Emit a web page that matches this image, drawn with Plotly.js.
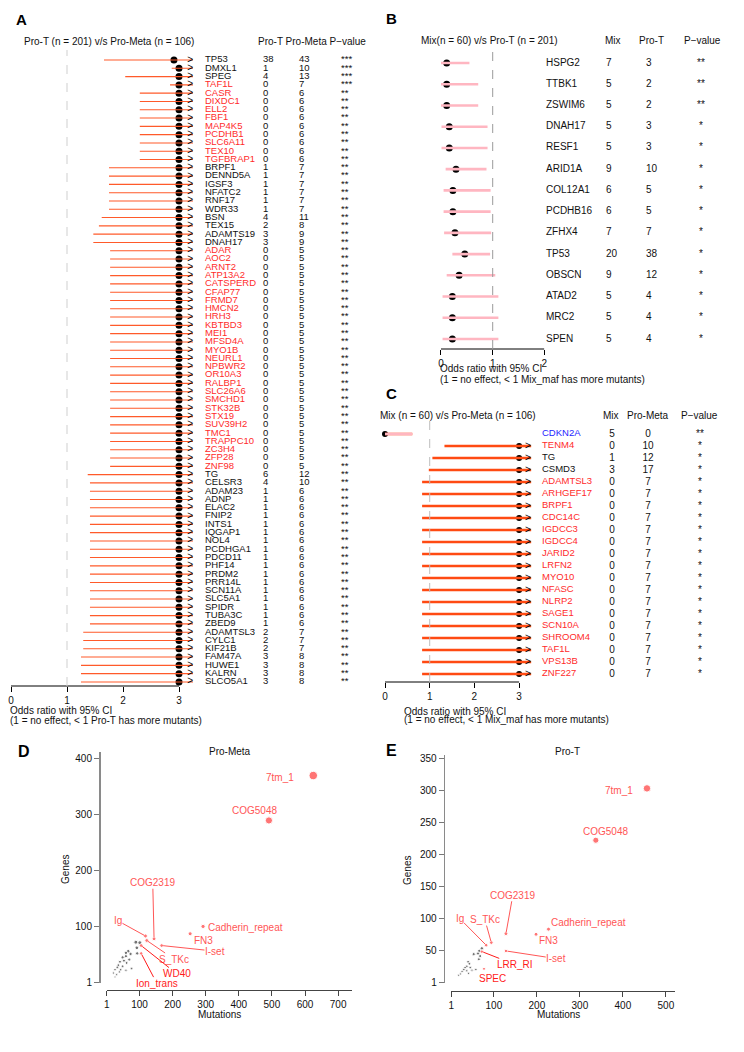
<!DOCTYPE html>
<html><head><meta charset="utf-8">
<script src="https://cdn.plot.ly/plotly-3.0.1.min.js"></script>
<style>html,body{margin:0;padding:0;background:#fff}#chart{width:744px;height:1052px}</style>
</head><body><div id="chart"></div>
<script>
const Inf = Infinity;
// ---------------- Panel A data ----------------
const genesA = ['TP53','DMXL1','SPEG','TAF1L','CASR','DIXDC1','ELL2','FBF1','MAP4K5','PCDHB1','SLC6A11','TEX10','TGFBRAP1',
 'BRPF1','DENND5A','IGSF3','NFATC2','RNF17','WDR33','BSN','TEX15','ADAMTS19','DNAH17',
 'ADAR','AOC2','ARNT2','ATP13A2','CATSPERD','CFAP77','FRMD7','HMCN2','HRH3','KBTBD3','MEI1','MFSD4A','MYO1B','NEURL1','NPBWR2','OR10A3','RALBP1','SLC26A6','SMCHD1','STK32B','STX19','SUV39H2','TMC1','TRAPPC10','ZC3H4','ZFP28','ZNF98',
 'TG','CELSR3','ADAM23','ADNP','ELAC2','FNIP2','INTS1','IQGAP1','NOL4','PCDHGA1','PDCD11','PHF14','PRDM2','PRR14L','SCN11A','SLC5A1','SPIDR','TUBA3C','ZBED9',
 'ADAMTSL3','CYLC1','KIF21B','FAM47A','HUWE1','KALRN','SLCO5A1'];
const proT_A = [38,1,4,0, 0,0,0,0,0,0,0,0,0, 1,1,1,1,1,1, 4,2,3,3,
 0,0,0,0,0,0,0,0,0,0,0,0,0,0,0,0,0,0,0,0,0,0,0,0,0,0,0,
 6,4, 1,1,1,1,1,1,1,1,1,1,1,1,1,1,1,1,1, 2,2,2,3,3,3,3];
const proMeta_A = [43,10,13,7, 6,6,6,6,6,6,6,6,6, 7,7,7,7,7,7, 11,8,9,9,
 5,5,5,5,5,5,5,5,5,5,5,5,5,5,5,5,5,5,5,5,5,5,5,5,5,5,5,
 12,10, 6,6,6,6,6,6,6,6,6,6,6,6,6,6,6,6,6, 7,7,7,8,8,8,8];
const pA = ['***','***','***','***', '**','**','**','**','**','**','**','**','**', '**','**','**','**','**','**', '**','**','**','**',
 '**','**','**','**','**','**','**','**','**','**','**','**','**','**','**','**','**','**','**','**','**','**','**','**','**','**','**',
 '**','**', '**','**','**','**','**','**','**','**','**','**','**','**','**','**','**','**','**', '**','**','**','**','**','**','**'];
const orA = [2.91,Inf,Inf,Inf, Inf,Inf,Inf,Inf,Inf,Inf,Inf,Inf,Inf, Inf,Inf,Inf,Inf,Inf,Inf, Inf,Inf,Inf,Inf,
 Inf,Inf,Inf,Inf,Inf,Inf,Inf,Inf,Inf,Inf,Inf,Inf,Inf,Inf,Inf,Inf,Inf,Inf,Inf,Inf,Inf,Inf,Inf,Inf,Inf,Inf,Inf,
 Inf,Inf, Inf,Inf,Inf,Inf,Inf,Inf,Inf,Inf,Inf,Inf,Inf,Inf,Inf,Inf,Inf,Inf,Inf, Inf,Inf,Inf,Inf,Inf,Inf,Inf];
const ciLowA = [1.66,2.87,2.04,2.84, 2.30,2.30,2.30,2.30,2.30,2.30,2.30,2.30,2.30, 1.75,1.75,1.75,1.75,1.75,1.75, 1.62,1.57,1.47,1.47,
 1.77,1.77,1.77,1.77,1.77,1.77,1.77,1.77,1.77,1.77,1.77,1.77,1.77,1.77,1.77,1.77,1.77,1.77,1.77,1.77,1.77,1.77,1.77,1.77,1.77,1.77,1.77,
 1.37,1.41, 1.41,1.41,1.41,1.41,1.41,1.41,1.41,1.41,1.41,1.41,1.41,1.41,1.41,1.41,1.41,1.41,1.41, 1.29,1.29,1.29,1.25,1.25,1.25,1.25];
const ciUpA = orA.map(() => Inf);

// ---------------- Panel B data ----------------
const genesB = ['HSPG2','TTBK1','ZSWIM6','DNAH17','RESF1','ARID1A','COL12A1','PCDHB16','ZFHX4','TP53','OBSCN','ATAD2','MRC2','SPEN'];
const mixB   = [7,5,5,5,5,9,6,6,7,20,9,5,5,5];
const proT_B = [3,2,2,3,3,10,5,5,7,38,12,4,4,4];
const pB     = ['**','**','**','*','*','*','*','*','*','*','*','*','*','*'];
const orB    = [0.11,0.11,0.11,0.16,0.16,0.29,0.23,0.23,0.27,0.46,0.35,0.22,0.22,0.22];
const ciLowB = [0.00,0.00,0.00,0.01,0.01,0.09,0.05,0.05,0.06,0.22,0.11,0.03,0.03,0.03];
const ciUpB  = [0.55,0.72,0.72,0.90,0.90,0.88,0.96,0.96,0.97,0.95,1.05,1.11,1.11,1.11];

// ---------------- Panel C data ----------------
const genesC = ['CDKN2A','TENM4','TG','CSMD3','ADAMTSL3','ARHGEF17','BRPF1','CDC14C','IGDCC3','IGDCC4','JARID2','LRFN2','MYO10','NFASC','NLRP2','SAGE1','SCN10A','SHROOM4','TAF1L','VPS13B','ZNF227'];
const mixC     = [5,0,1,3,0,0,0,0,0,0,0,0,0,0,0,0,0,0,0,0,0];
const proMetaC = [0,10,12,17,7,7,7,7,7,7,7,7,7,7,7,7,7,7,7,7,7];
const pC       = ['**','*','*','*','*','*','*','*','*','*','*','*','*','*','*','*','*','*','*','*','*'];
const orC      = [0,Inf,Inf,Inf,Inf,Inf,Inf,Inf,Inf,Inf,Inf,Inf,Inf,Inf,Inf,Inf,Inf,Inf,Inf,Inf,Inf];
const ciLowC   = [0,1.33,1.06,0.98,0.83,0.83,0.83,0.83,0.83,0.83,0.83,0.83,0.83,0.83,0.83,0.83,0.83,0.83,0.83,0.83,0.83];
const ciUpC    = [0.61,Inf,Inf,Inf,Inf,Inf,Inf,Inf,Inf,Inf,Inf,Inf,Inf,Inf,Inf,Inf,Inf,Inf,Inf,Inf,Inf];

// ---------------- Panel D data (Pro-Meta) ----------------
const domD   = ['7tm_1','COG5048','Cadherin_repeat','FN3','COG2319','Ig','S_TKc','I-set','WD40','Ion_trans'];
const mutD   = [625,491,292,253,144,118,122,167,105,105];
const genesD = [369,289,100,87,78,83,75,66,66,52];
const otherMutD   = [89,101,92,93,66,59,73,59,49,69,53,41,61,36,49,33,26,43,39,21,31,26,76,59];
const otherGenesD = [72,71,62,52,56,53,51,47,45,41,39,37,35,31,29,27,23,23,19,17,14,10,25,22];

// ---------------- Panel E data (Pro-T) ----------------
const domE   = ['7tm_1','COG5048','Cadherin_repeat','FN3','COG2319','Ig','S_TKc','I-set','LRR_RI','SPEC'];
const mutE   = [456,337,227,198,128,82,94,128,72,77];
const genesE = [304,223,84,76,77,59,63,50,49,22];
const otherMutE   = [72,66,63,53,68,65,40,43,37,33,45,30,37,26,22,49,58,41,18];
const otherGenesE = [54,50,46,45,42,37,33,30,26,24,24,21,19,18,14,20,21,15,12];

// ---------------- geometry / style ----------------
const W = 744, H = 1052;
const FONT = 'Liberation Sans, Arial, Helvetica, sans-serif';
const fx = px => px / W, fy = py => 1 - py / H;
const RED = '#FF2B2B', BLUE = '#1E1EFF', INK = '#111111';
const rows = n => Array.from({length: n}, (_, i) => i + 1);

const traces = [];
const annotations = [];
const shapes = [];

function forest(o) {
  const r = rows(o.genes.length);
  const lx = [], ly = [], ax = [], ay = [], dxs = [], dys = [];
  o.genes.forEach((g, i) => {
    const up = o.hi[i];
    const capped = up > o.xmax;
    lx.push(o.lo[i], capped ? o.lineEnd : up, null); ly.push(r[i], r[i], null);
    if (capped) { ax.push(o.arrowX); ay.push(r[i]); }
    dxs.push(Math.min(o.or[i], o.xmax)); dys.push(r[i]);
  });
  traces.push({type:'scatter', mode:'markers', x:dxs, y:dys, xaxis:o.xa, yaxis:o.ya,
    marker:{color:'#000', size:o.dotSize}, hoverinfo:'skip', cliponaxis:false});
  traces.push({type:'scatter', mode:'lines', x:lx, y:ly, xaxis:o.xa, yaxis:o.ya,
    line:{color:o.lineColor, width:o.lineWidth}, hoverinfo:'skip', connectgaps:false});
  if (ax.length) traces.push({type:'scatter', mode:'text', x:ax, y:ay, xaxis:o.xa, yaxis:o.ya, text:ax.map(()=>'>'),
    textposition:'middle center', textfont:{family:FONT, size:o.arrowSize, color:'#000'}, hoverinfo:'skip', cliponaxis:false});
}
function column(xa, ya, xpos, n, texts, colors, size, pos) {
  traces.push({type:'scatter', mode:'text', x:texts.map(()=>xpos), y:rows(n), text:texts.map(String), xaxis:xa, yaxis:ya,
    textposition:pos, textfont:{family:FONT, size:size, color:colors}, hoverinfo:'skip', cliponaxis:false});
}
function ann(text, px, py, opt) {
  annotations.push(Object.assign({text:text, x:fx(px), y:fy(py), xref:'paper', yref:'paper', showarrow:false,
    xanchor:'left', yanchor:'middle', font:{family:FONT, size:10, color:INK}, borderpad:0}, opt || {}));
}
function hline(xref, x0, x1, yref) {
  shapes.push({type:'line', xref:xref, yref:yref+' domain', x0:x0, x1:x1, y0:0, y1:0, line:{color:'#000', width:1}});
}
function vdash(xref, yref, color) {
  shapes.push({type:'line', xref:xref, yref:yref+' domain', x0:1, x1:1, y0:0, y1:1, line:{color:color, width:1, dash:'dash'}});
}

// ---------- Panel A ----------
forest({genes:genesA, or:orA, lo:ciLowA, hi:ciUpA, xa:'x', ya:'y', xmax:3, lineEnd:3.25, arrowX:3.2, arrowSize:10,
  lineColor:'#FF5A2A', lineWidth:1.1, dotSize:7});
const colA = proT_A.map((v, i) => (v === 0 ? RED : INK));
column('x2','y', 205, genesA.length, genesA, colA, 9.5, 'middle right');
column('x2','y', 263, genesA.length, proT_A, INK, 9.5, 'middle right');
column('x2','y', 299, genesA.length, proMeta_A, INK, 9.5, 'middle right');
column('x2','y', 341, genesA.length, pA, INK, 9.5, 'middle right');
hline('x', 0, 3, 'y'); vdash('x', 'y', '#CFCFCF');

// ---------- Panel B ----------
forest({genes:genesB, or:orB, lo:ciLowB, hi:ciUpB, xa:'x3', ya:'y3', xmax:2, lineEnd:2, arrowX:2,
  arrowSize:10, lineColor:'#FFB6C1', lineWidth:2.6, dotSize:7});
column('x4','y3', 546, genesB.length, genesB, INK, 10, 'middle right');
column('x4','y3', 606, genesB.length, mixB, INK, 10, 'middle right');
column('x4','y3', 646, genesB.length, proT_B, INK, 10, 'middle right');
column('x4','y3', 701, genesB.length, pB, INK, 10, 'middle center');
hline('x3', 0, 2, 'y3'); vdash('x3', 'y3', '#9A9A9A');

// ---------- Panel C ----------
forest({genes:genesC, or:orC, lo:ciLowC, hi:ciUpC, xa:'x5', ya:'y5', xmax:3, lineEnd:3.27, arrowX:3.2, arrowSize:10,
  lineColor:'#FF4A12', lineWidth:2.4, dotSize:6});
const colC = mixC.map((v, i) => (v === 0 ? RED : (proMetaC[i] === 0 ? BLUE : INK)));
column('x6','y5', 542, genesC.length, genesC, colC, 9.5, 'middle right');
column('x6','y5', 612, genesC.length, mixC, INK, 10, 'middle center');
column('x6','y5', 648, genesC.length, proMetaC, INK, 10, 'middle center');
column('x6','y5', 700, genesC.length, pC, INK, 10, 'middle center');
hline('x5', 0, 3, 'y5'); vdash('x5', 'y5', '#BDBDBD');
// finite CI (gene with no Pro-Meta mutants) drawn pink over the default colour
(function(){
  const lx=[], ly=[];
  genesC.forEach((g,i)=>{ if (ciUpC[i] <= 3) { lx.push(ciLowC[i], ciUpC[i], null); ly.push(i+1, i+1, null); } });
  traces.push({type:'scatter', mode:'lines', x:lx, y:ly, xaxis:'x5', yaxis:'y5', line:{color:'#FFB6C1', width:2.4}, hoverinfo:'skip'});
})();

// ---------- Panels D & E ----------
const PT = '#FF3B3B', LAB = '#FF5656', LAB2 = '#FF1A1A';
function bubble(xa, ya, dom, mut, gen, oMut, oGen, labels) {
  traces.push({type:'scatter', mode:'markers', x:oMut, y:oGen, xaxis:xa, yaxis:ya,
    marker:{color:'#3A3A3A', size:oGen.map(g => 1.8 + g * 0.03)}, hoverinfo:'skip'});
  traces.push({type:'scatter', mode:'markers', x:mut, y:gen, xaxis:xa, yaxis:ya,
    marker:{color:PT, size:gen.map(g => 2.6 + g * 0.016)}, hoverinfo:'skip', cliponaxis:false});
  dom.forEach((d, i) => {
    const L = labels[d];
    const a = {text:d, xref:xa, yref:ya, font:{family:FONT, size:10, color:L[3] ? LAB2 : LAB}, borderpad:0};
    if (L[2] === 'lead') {
      Object.assign(a, {x:mut[i], y:gen[i], ax:L[0], ay:L[1], axref:xa, ayref:ya, showarrow:true, arrowhead:0,
        arrowwidth:1, arrowcolor:L[3] ? LAB2 : LAB, standoff:1.5});
    } else {
      Object.assign(a, {x:L[0], y:L[1], showarrow:false, xanchor:L[2] === 'left' ? 'left' : 'center', yanchor:'middle'});
    }
    annotations.push(a);
  });
}
// label placements (layout, data units of each panel)
const labD = {'7tm_1':[524,366,'c'], 'COG5048':[446,306,'c'], 'Cadherin_repeat':[303,99,'left'], 'FN3':[292,75,'c'],
  'COG2319':[140,178,'lead'], 'Ig':[35,110,'lead'], 'S_TKc':[204,42,'lead'], 'I-set':[328,56,'lead'],
  'WD40':[212,16,'lead',1], 'Ion_trans':[152,-1,'lead',1]};
const labE = {'7tm_1':[392,300,'c'], 'COG5048':[359,236,'c'], 'Cadherin_repeat':[230,95,'left'], 'FN3':[226,66,'c'],
  'COG2319':[144,137,'lead'], 'Ig':[20,101,'lead'], 'S_TKc':[79,99,'lead'], 'I-set':[245,38,'lead'],
  'LRR_RI':[148,29,'lead',1], 'SPEC':[96,7,'c',1]};
bubble('x7','y7', domD, mutD, genesD, otherMutD, otherGenesD, labD);
bubble('x8','y8', domE, mutE, genesE, otherMutE, otherGenesE, labE);

// ---------- text: titles, headers, footnotes ----------
const B15 = {family:FONT, size:15, color:'#000', weight:'bold'};
ann('<b>A</b>', 15, 19.5, {font:B15});
ann('<b>B</b>', 385, 18.3, {font:B15});
ann('<b>C</b>', 385, 393, {font:B15});
ann('<b>D</b>', 17, 751.7, {font:Object.assign({}, B15, {size:16})});
ann('<b>E</b>', 384.7, 750, {font:Object.assign({}, B15, {size:16})});

ann('Pro-T (n = 201) v/s Pro-Meta (n = 106)', 22.7, 41);
ann('Pro-T Pro-Meta P\u2212value', 256.5, 41);
ann('Odds ratio with 95% CI', 9, 710.8);
ann('(1 = no effect, < 1 Pro-T has more mutants)', 9, 720.3);

ann('Mix(n = 60) v/s Pro-T (n = 201)', 420, 40.7);
ann('Mix', 612.5, 40.7, {xanchor:'center'}); ann('Pro-T', 651.3, 40.7, {xanchor:'center'}); ann('P\u2212value', 702.8, 40.7, {xanchor:'center'});
ann('Odds ratio with 95% CI', 439, 368.7);
ann('(1 = no effect, < 1 Mix_maf has more mutants)', 439, 379.2);

ann('Mix (n = 60) v/s Pro-Meta (n = 106)', 378.5, 415.7);
ann('Mix', 610.8, 415.7, {xanchor:'center'}); ann('Pro-Meta', 647.8, 415.7, {xanchor:'center'}); ann('P\u2212value', 699.5, 415.7, {xanchor:'center'});
ann('Odds ratio with 95% CI', 403, 711);
ann('(1 = no effect, < 1 Mix_maf has more mutants)', 403, 719.7);

ann('Pro-Meta', 230.3, 751.7, {xanchor:'center'});
ann('Pro-T', 567, 751.7, {xanchor:'center'});
ann('Genes', 65, 870, {xanchor:'center', textangle:-90});
ann('Genes', 407, 870, {xanchor:'center', textangle:-90});
ann('Mutations', 219, 1014.3, {xanchor:'center'});
ann('Mutations', 558.5, 1014, {xanchor:'center'});

// ---------- axes ----------
const TF = {family:FONT, size:10, color:INK};
const hidden = {visible:false, showgrid:false, zeroline:false, fixedrange:true};
function forestX(dom0, dom1, r0, r1, yref, tv) {
  return {domain:[fx(dom0), fx(dom1)], range:[r0, r1], anchor:yref, tickvals:tv, ticktext:tv.map(String),
    ticks:'outside', ticklen:5, tickwidth:1, tickcolor:'#000', showline:false, showgrid:false, zeroline:false, tickfont:TF};
}
const layout = {
  width:W, height:H, margin:{l:0, r:0, t:0, b:0}, showlegend:false,
  paper_bgcolor:'#fff', plot_bgcolor:'rgba(0,0,0,0)', font:{family:FONT, size:10, color:INK},
  // A
  xaxis: forestX(11, 11 + 3.35 * 56, 0, 3.35, 'y', [0,1,2,3]),
  yaxis: Object.assign({}, hidden, {domain:[fy(686), fy(50)], range:[76.49, -0.206]}),
  xaxis2: Object.assign({}, hidden, {domain:[fx(200), fx(372)], range:[200, 372], anchor:'y'}),
  // B
  xaxis3: forestX(441 - 0.03 * 51.7, 441 + 2.0 * 51.7, -0.03, 2.0, 'y3', [0,1,2]),
  yaxis3: Object.assign({}, hidden, {domain:[fy(349), fy(52)], range:[14.47, 0.482]}),
  xaxis4: Object.assign({}, hidden, {domain:[fx(545), fx(744)], range:[545, 744], anchor:'y3'}),
  // C
  xaxis5: forestX(385 - 0.05 * 44.7, 385 + 3.35 * 44.7, -0.05, 3.35, 'y5', [0,1,2,3]),
  yaxis5: Object.assign({}, hidden, {domain:[fy(682), fy(420)], range:[21.667, -0.167]}),
  xaxis6: Object.assign({}, hidden, {domain:[fx(536), fx(744)], range:[536, 744], anchor:'y5'}),
  // D
  xaxis7: {domain:[fx(106.4 + 0.331), fx(106.4 + 0.331 * 742)], range:[1, 742], anchor:'free', position:fy(990),
    tickvals:[1,100,200,300,400,500,600,700], ticks:'outside', ticklen:5, tickcolor:'#444', showline:true, linecolor:'#444',
    linewidth:1, showgrid:false, zeroline:false, tickfont:TF},
  yaxis7: {domain:[fy(982.56), fy(752)], range:[0, 411], anchor:'free', position:fx(99),
    tickvals:[1,100,200,300,400], ticks:'outside', ticklen:5, tickcolor:'#777', showline:true, linecolor:'#8A8A8A',
    linewidth:1.6, showgrid:false, zeroline:false, tickfont:TF},
  // E
  xaxis8: {domain:[fx(450.9 + 0.43), fx(450.9 + 0.43 * 522)], range:[1, 522], anchor:'free', position:fy(990.7),
    tickvals:[1,100,200,300,400,500], ticks:'outside', ticklen:5, tickcolor:'#444', showline:true, linecolor:'#444',
    linewidth:1, showgrid:false, zeroline:false, tickfont:TF},
  yaxis8: {domain:[fy(982.94), fy(755.1)], range:[0, 356], anchor:'free', position:fx(443.7),
    tickvals:[1,50,100,150,200,250,300,350], ticks:'outside', ticklen:5, tickcolor:'#777', showline:true, linecolor:'#8A8A8A',
    linewidth:1.6, showgrid:false, zeroline:false, tickfont:TF},
  annotations:annotations, shapes:shapes
};
Plotly.newPlot('chart', traces, layout, {staticPlot:true, displayModeBar:false});
</script></body></html>
